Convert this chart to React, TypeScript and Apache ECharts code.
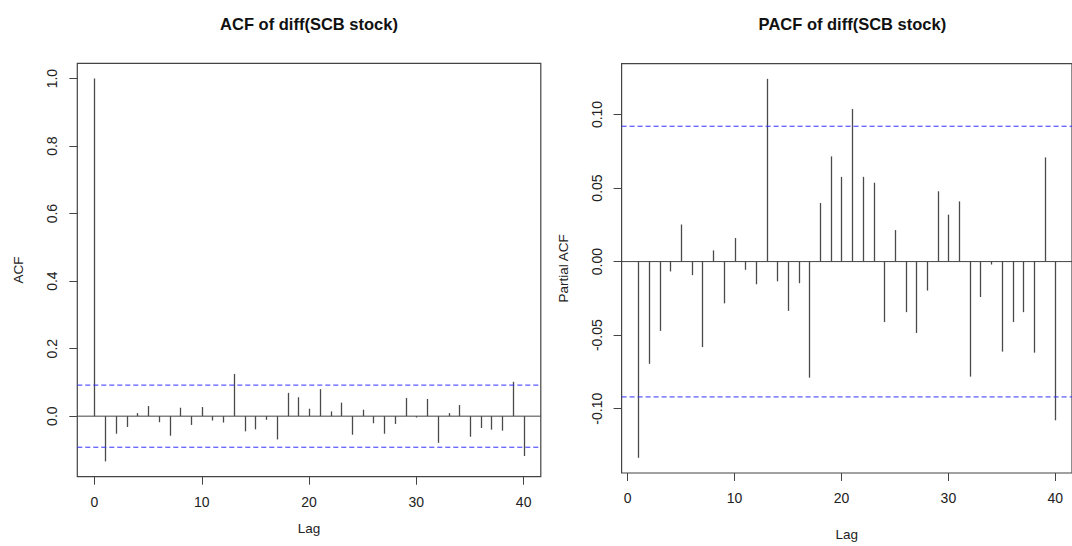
import React, { useEffect, useRef } from "react";
import * as echarts from "echarts";

// ---- data ----
const acfLags = [
  0, 1, 2, 3, 4, 5, 6, 7, 8, 9, 10, 11, 12, 13, 14, 15, 16, 17, 18, 19, 20,
  21, 22, 23, 24, 25, 26, 27, 28, 29, 30, 31, 32, 33, 34, 35, 36, 37, 38, 39, 40,
];
const acfValues = [
  1.0, -0.134, -0.052, -0.032, 0.009, 0.03, -0.018, -0.058, 0.025, -0.026, 0.027,
  -0.013, -0.019, 0.125, -0.045, -0.039, -0.011, -0.069, 0.069, 0.056, 0.022,
  0.08, 0.014, 0.04, -0.055, 0.019, -0.021, -0.052, -0.023, 0.054, -0.004,
  0.051, -0.079, 0.009, 0.033, -0.061, -0.035, -0.04, -0.043, 0.102, -0.118,
];
const pacfLags = [
  1, 2, 3, 4, 5, 6, 7, 8, 9, 10, 11, 12, 13, 14, 15, 16, 17, 18, 19, 20,
  21, 22, 23, 24, 25, 26, 27, 28, 29, 30, 31, 32, 33, 34, 35, 36, 37, 38, 39, 40,
];
const pacfValues = [
  -0.1334, -0.0695, -0.0471, -0.0067, 0.0252, -0.0092, -0.0581, 0.0076, -0.0284, 0.016,
  -0.0056, -0.0154, 0.1242, -0.0134, -0.0335, -0.0147, -0.0789, 0.0398, 0.0715, 0.0576,
  0.1037, 0.0576, 0.0536, -0.0411, 0.0214, -0.0344, -0.0485, -0.0197, 0.0478, 0.0319,
  0.0409, -0.0782, -0.0241, -0.002, -0.0612, -0.0411, -0.0344, -0.0619, 0.0708, -0.1079,
];
const confLimit = 0.092;
const xTicks = [0, 10, 20, 30, 40];
const acfYTicks = [0, 0.2, 0.4, 0.6, 0.8, 1.0];
const pacfYTicks = [-0.1, -0.05, 0, 0.05, 0.1];
const titles = ["ACF of diff(SCB stock)", "PACF of diff(SCB stock)"];
const xName = "Lag";
const yNames = ["ACF", "Partial ACF"];

// R-style axis range: data range extended by 4% on each side
function rRange(vals: number[]): [number, number] {
  const lo = Math.min(...vals);
  const hi = Math.max(...vals);
  const d = (hi - lo) * 0.04;
  return [lo - d, hi + d];
}

const FONT = '"Liberation Sans", Arial, sans-serif';
const BOX = "#444";
const BAR = "#4a4a4a";
const BLUE = "#3030ff";
const TXT = "#222";

export default function App() {
  const ref = useRef<HTMLDivElement>(null);

  useEffect(() => {
    if (!ref.current) return;
    const chart = echarts.init(ref.current, undefined, { renderer: "svg" });

    const acfX = rRange(acfLags);
    const pacfX = rRange(pacfLags);
    const acfY = rRange([...acfValues, confLimit, -confLimit]);
    const pacfY = rRange([...pacfValues, confLimit, -confLimit]);

    const renderStem = (params: any, api: any) => {
      const x = api.value(0);
      const y = api.value(1);
      const p0 = api.coord([x, 0]);
      const p1 = api.coord([x, y]);
      const px = Math.round(p0[0]) + 0.5;
      return {
        type: "line",
        shape: { x1: px, y1: p0[1], x2: px, y2: p1[1] },
        style: { stroke: BAR, lineWidth: 1.3 },
      };
    };

    const xAxisBase = (gridIndex: number, range: [number, number], nameGap: number) => ({
      type: "value",
      gridIndex,
      min: range[0],
      max: range[1],
      name: xName,
      nameLocation: "middle",
      nameGap,
      nameTextStyle: { fontFamily: FONT, fontSize: 13.5, color: TXT },
      axisLine: { show: false, onZero: false },
      splitLine: { show: false },
      axisTick: {
        show: true,
        length: 8,
        customValues: xTicks,
        lineStyle: { color: BOX, width: 1 },
      },
      axisLabel: {
        customValues: xTicks,
        margin: 18,
        fontFamily: FONT,
        fontSize: 14,
        color: TXT,
        formatter: (v: number) => String(v),
      },
    });

    const yAxisBase = (
      gridIndex: number,
      range: [number, number],
      ticks: number[],
      digits: number,
      name: string,
      nameGap: number
    ) => ({
      type: "value",
      gridIndex,
      min: range[0],
      max: range[1],
      name,
      nameLocation: "middle",
      nameGap,
      nameRotate: 90,
      nameTextStyle: { fontFamily: FONT, fontSize: 13.5, color: TXT },
      axisLine: { show: false, onZero: false },
      splitLine: { show: false },
      axisTick: {
        show: true,
        length: 8,
        customValues: ticks,
        lineStyle: { color: BOX, width: 1 },
      },
      axisLabel: {
        customValues: ticks,
        rotate: 90,
        margin: 18,
        fontFamily: FONT,
        fontSize: 14,
        color: TXT,
        formatter: (v: number) => v.toFixed(digits),
      },
    });

    const refLines = (xi: number, range: [number, number]) => [
      {
        type: "line",
        xAxisIndex: xi,
        yAxisIndex: xi,
        data: [
          [range[0], confLimit],
          [range[1], confLimit],
        ],
        symbol: "none",
        silent: true,
        lineStyle: { color: BLUE, width: 1, type: [5, 3] },
      },
      {
        type: "line",
        xAxisIndex: xi,
        yAxisIndex: xi,
        data: [
          [range[0], -confLimit],
          [range[1], -confLimit],
        ],
        symbol: "none",
        silent: true,
        lineStyle: { color: BLUE, width: 1, type: [5, 3] },
      },
      {
        type: "line",
        xAxisIndex: xi,
        yAxisIndex: xi,
        data: [
          [range[0], 0],
          [range[1], 0],
        ],
        symbol: "none",
        silent: true,
        lineStyle: { color: BOX, width: 1, type: "solid" },
      },
    ];

    chart.setOption({
      animation: false,
      backgroundColor: "#ffffff",
      graphic: [
        {
          type: "text",
          x: 309,
          y: 24,
          style: {
            text: titles[0],
            fontFamily: FONT,
            fontWeight: "bold",
            fontSize: 16.5,
            fill: "#111",
            align: "center",
            verticalAlign: "middle",
          },
        },
        {
          type: "text",
          x: 852.4,
          y: 24,
          style: {
            text: titles[1],
            fontFamily: FONT,
            fontWeight: "bold",
            fontSize: 16.5,
            fill: "#111",
            align: "center",
            verticalAlign: "middle",
          },
        },
      ],
      grid: [
        {
          left: 77.3,
          top: 63.3,
          width: 463.5,
          height: 413.4,
          show: true,
          borderColor: BOX,
          borderWidth: 1.2,
          backgroundColor: "transparent",
          containLabel: false,
        },
        {
          left: 621.6,
          top: 63.7,
          width: 461.6,
          height: 415,
          show: true,
          borderColor: BOX,
          borderWidth: 1.2,
          backgroundColor: "transparent",
          containLabel: false,
        },
      ],
      xAxis: [xAxisBase(0, acfX, 45), xAxisBase(1, pacfX, 54)],
      yAxis: [
        yAxisBase(0, acfY, acfYTicks, 1, yNames[0], 52),
        yAxisBase(1, pacfY, pacfYTicks, 2, yNames[1], 51),
      ],
      series: [
        {
          type: "custom",
          xAxisIndex: 0,
          yAxisIndex: 0,
          data: acfLags.map((l, i) => [l, acfValues[i]]),
          renderItem: renderStem,
          z: 3,
        },
        ...refLines(0, acfX),
        {
          type: "custom",
          xAxisIndex: 1,
          yAxisIndex: 1,
          data: pacfLags.map((l, i) => [l, pacfValues[i]]),
          renderItem: renderStem,
          z: 3,
        },
        ...refLines(1, pacfX),
      ],
    });

    return () => chart.dispose();
  }, []);

  return (
    <div
      ref={ref}
      style={{ position: "absolute", left: 0, top: 0, width: 1072, height: 546 }}
    />
  );
}
